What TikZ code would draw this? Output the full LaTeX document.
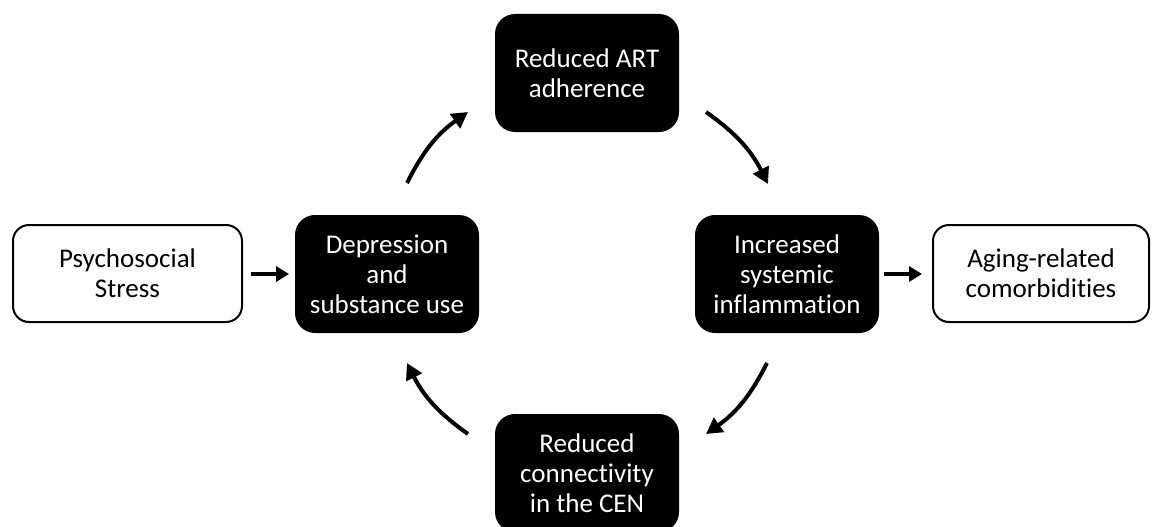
\documentclass[tikz,border=0pt]{standalone}
\usepackage{fontspec}
\setmainfont[Ligatures=NoCommon]{Carlito}
\usetikzlibrary{arrows.meta}
\begin{document}
\begin{tikzpicture}[x=1pt,y=-1pt,
  txt/.style={font=\fontsize{27}{30}\selectfont, align=center, inner sep=0pt},
  darkbox/.style={txt, rectangle, fill=black, text=white, rounded corners=20pt,
    minimum width=184pt, minimum height=118pt},
  lightbox/.style={txt, rectangle, draw=black, line width=2pt, fill=white, rounded corners=16pt,
    minimum height=97pt},
  flow/.style={line width=4pt, -{Triangle[length=13pt,width=15pt]}},
  cyc/.style={line width=4pt, -{Triangle[length=16pt,width=17pt]}}
]
\useasboundingbox (0,0) rectangle (1152,527);
\clip (0,0) rectangle (1152,527);
\fill[white] (0,0) rectangle (1152,527);

\node[lightbox, minimum width=229pt] (stress) at (127.5,273.5) {Psychosocial\\Stress};
\node[darkbox] (dep) at (387,274) {Depression\\and\\substance use};
\node[darkbox] (art) at (587,73) {Reduced ART\\adherence};
\node[darkbox] (inf) at (787,274) {Increased\\systemic\\inflammation};
\node[darkbox] (cen) at (587,473) {Reduced\\connectivity\\in the CEN};
\node[lightbox, minimum width=216pt] (aging) at (1041,273.5) {Aging-related\\comorbidities};

\coordinate (s1) at (251,274);
\coordinate (s2) at (289,274);
\coordinate (a1) at (884,274);
\coordinate (a2) at (922,274);
\draw[flow] (s1) -- (s2);
\draw[flow] (a1) -- (a2);

\coordinate (d1) at (407,183);
\coordinate (d2) at (468,112);
\coordinate (r1) at (706,112);
\coordinate (r2) at (768,184);
\coordinate (i1) at (767,363);
\coordinate (i2) at (706,434);
\coordinate (e1) at (468,434);
\coordinate (e2) at (407,363);
\draw[cyc] (d1) to[bend left=14] (d2);
\draw[cyc] (r1) to[bend left=14] (r2);
\draw[cyc] (i1) to[bend left=14] (i2);
\draw[cyc] (e1) to[bend left=14] (e2);
\end{tikzpicture}
\end{document}
